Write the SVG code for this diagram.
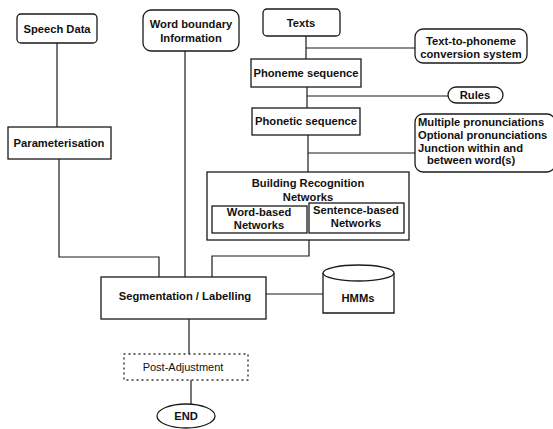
<svg xmlns="http://www.w3.org/2000/svg" width="553" height="429" viewBox="0 0 553 429">
<style>
.b{fill:#fff;stroke:#1a1a1a;stroke-width:1.3}
.d{fill:#fff;stroke:#333;stroke-width:1.4;stroke-dasharray:1 4;stroke-linecap:round}
.c{fill:none;stroke:#1a1a1a;stroke-width:1.2}
text{font-family:"Liberation Sans",Arial,sans-serif;font-size:11.2px;font-weight:bold;fill:#111;text-anchor:middle;dominant-baseline:central}
.l{text-anchor:start}
</style>
<rect width="553" height="429" fill="#fff"/>
<g id="connectors">
<path class="c" d="M57,43V127"/>
<path class="c" d="M59,159V257H159V277"/>
<path class="c" d="M185,51V277"/>
<path class="c" d="M306,36V59"/>
<path class="c" d="M306,48H415"/>
<path class="c" d="M307,87V108"/>
<path class="c" d="M307,96H448"/>
<path class="c" d="M308,135V172"/>
<path class="c" d="M308,153H415"/>
<path class="c" d="M309,240V256H212V277"/>
<path class="c" d="M266,294H323"/>
<path class="c" d="M189,319V354"/>
<path class="c" d="M191,380V405"/>
</g>
<g id="speech-data"><rect class="b" x="17" y="14" width="80" height="29" rx="4"/><text x="57" y="29">Speech Data</text></g>
<g id="word-boundary"><rect class="b" x="143" y="10" width="96" height="41" rx="8"/><text x="191" y="24">Word boundary</text><text x="191" y="38">Information</text></g>
<g id="texts"><rect class="b" x="263" y="9" width="77" height="27" rx="4"/><text x="301" y="23">Texts</text></g>
<g id="text-to-phoneme"><rect class="b" x="415" y="29" width="112" height="34" rx="8"/><text x="471" y="41">Text-to-phoneme</text><text x="471" y="54">conversion system</text></g>
<g id="phoneme-sequence"><rect class="b" x="251" y="59" width="110" height="28"/><text x="306" y="73">Phoneme sequence</text></g>
<g id="rules"><rect class="b" x="448" y="87" width="55" height="16" rx="8"/><text x="475" y="95">Rules</text></g>
<g id="phonetic-sequence"><rect class="b" x="252" y="108" width="108" height="27"/><text x="306" y="121">Phonetic sequence</text></g>
<g id="pronunciations"><rect class="b" x="415" y="114" width="140" height="58" rx="8"/><text class="l" x="418" y="122">Multiple pronunciations</text><text class="l" x="418" y="135">Optional pronunciations</text><text class="l" x="418" y="148">Junction within and</text><text class="l" x="427" y="160">between word(s)</text></g>
<g id="parameterisation"><rect class="b" x="8" y="127" width="103" height="32"/><text x="59" y="143">Parameterisation</text></g>
<g id="building-networks"><rect class="b" x="207" y="172" width="202" height="68"/><text x="308" y="183">Building Recognition</text><text x="308" y="197">Networks</text>
<rect class="b" x="212" y="206" width="95" height="27"/><text x="259" y="212">Word-based</text><text x="259" y="225">Networks</text>
<rect class="b" x="309" y="203" width="95" height="30"/><text x="356" y="210">Sentence-based</text><text x="356" y="223">Networks</text></g>
<g id="segmentation"><rect class="b" x="101" y="277" width="165" height="42"/><text x="185" y="296">Segmentation / Labelling</text></g>
<g id="hmms"><path class="b" d="M323,273V313H394V273"/><ellipse class="b" cx="358.5" cy="273" rx="35.5" ry="8"/><text x="358" y="298">HMMs</text></g>
<g id="post-adjustment"><rect class="d" x="124" y="354" width="124" height="26"/><text x="183" y="367" style="font-weight:normal;font-size:11px">Post-Adjustment</text></g>
<g id="end"><ellipse class="b" cx="186" cy="416" rx="29" ry="12"/><text x="186" y="416">END</text></g>
</svg>
